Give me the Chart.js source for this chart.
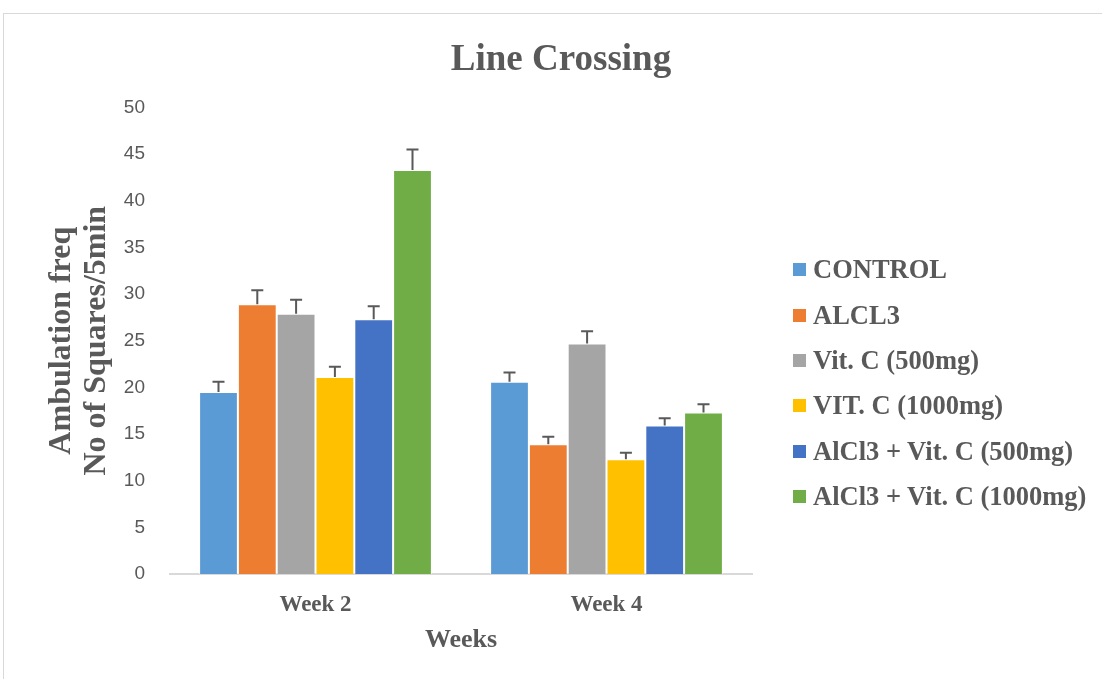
<!DOCTYPE html>
<html>
<head>
<meta charset="utf-8">
<script src="https://cdn.jsdelivr.net/npm/chart.js@4.4.1/dist/chart.umd.min.js"></script>
<style>
  html, body { margin: 0; padding: 0; background: #fff; overflow: hidden; }
  .frame { position: absolute; left: 3px; top: 13px; width: 1120px; height: 700px; border: 1px solid #d9d9d9; }
  #lineChart { position: absolute; left: 0; top: 0; }
  #legend { position: absolute; left: 789px; top: 233px; font-family: "Liberation Serif", "Times New Roman", serif;
            font-weight: bold; font-size: 26.5px; color: #595959; }
  #legend .item { display: flex; align-items: center; height: 45.4px; white-space: nowrap; }
  #legend .box { width: 13px; height: 13px; margin-right: 7px; }
</style>
</head>
<body>
<div class="frame"><canvas id="lineChart" width="1098" height="665"></canvas><div id="legend"></div></div>
<script>
const weeks = ['Week 2', 'Week 4'];
const seriesNames = ['CONTROL', 'ALCL3', 'Vit. C (500mg)', 'VIT. C (1000mg)', 'AlCl3 + Vit. C (500mg)', 'AlCl3 + Vit. C (1000mg)'];
const seriesColors = ['#5B9BD5', '#ED7D31', '#A5A5A5', '#FFC000', '#4472C4', '#70AD47'];

const control = [19.5, 20.6];
const alcl3 = [28.9, 13.9];
const vitC500 = [27.9, 24.7];
const vitC1000 = [21.1, 12.3];
const alcl3VitC500 = [27.3, 15.9];
const alcl3VitC1000 = [43.3, 17.3];

const controlErr = [1.1, 1.0];
const alcl3Err = [1.5, 0.8];
const vitC500Err = [1.5, 1.3];
const vitC1000Err = [1.1, 0.7];
const alcl3VitC500Err = [1.4, 0.8];
const alcl3VitC1000Err = [2.2, 0.9];

const yTicks = [0, 5, 10, 15, 20, 25, 30, 35, 40, 45, 50];

const values = [control, alcl3, vitC500, vitC1000, alcl3VitC500, alcl3VitC1000];
const errors = [controlErr, alcl3Err, vitC500Err, vitC1000Err, alcl3VitC500Err, alcl3VitC1000Err];

const SERIF = '"Liberation Serif", "Times New Roman", serif';
const GREY = '#595959';

// upward-only error bars, drawn from the y scale
const errorBars = {
    id: 'errorBars',
    afterDatasetsDraw(chart) {
        const ctx = chart.ctx;
        const y = chart.scales.y;
        ctx.save();
        ctx.strokeStyle = GREY;
        ctx.lineWidth = 2;
        chart.data.datasets.forEach((ds, i) => {
            const meta = chart.getDatasetMeta(i);
            meta.data.forEach((bar, j) => {
                const top = y.getPixelForValue(ds.data[j] + ds.errors[j]);
                ctx.beginPath();
                ctx.moveTo(bar.x, bar.y);
                ctx.lineTo(bar.x, top);
                ctx.moveTo(bar.x - 6, top);
                ctx.lineTo(bar.x + 6, top);
                ctx.stroke();
            });
        });
        ctx.restore();
    }
};

const chart = new Chart(document.getElementById('lineChart').getContext('2d'), {
    type: 'bar',
    data: {
        labels: weeks,
        datasets: seriesNames.map((name, i) => ({
            label: name,
            data: values[i],
            errors: errors[i],
            backgroundColor: seriesColors[i],
            borderColor: 'rgba(255,255,255,0.7)',
            borderWidth: 1,
            barPercentage: 1,
            categoryPercentage: 0.8
        }))
    },
    options: {
        responsive: false,
        animation: false,
        layout: { padding: { left: 16, right: 0, top: 0, bottom: 23 } },
        plugins: {
            title: {
                display: true,
                text: 'Line Crossing',
                color: GREY,
                font: { family: SERIF, size: 37, weight: 'bold' },
                padding: { top: 24, bottom: 25 }
            },
            legend: { display: false },
            tooltip: { enabled: false }
        },
        scales: {
            x: {
                grid: { display: false, drawTicks: false },
                border: { display: true, color: '#d9d9d9', width: 2 },
                ticks: { color: GREY, padding: 17, font: { family: SERIF, size: 23, weight: 'bold' } },
                title: {
                    display: true,
                    text: 'Weeks',
                    color: GREY,
                    font: { family: SERIF, size: 26, weight: 'bold' },
                    padding: { top: 6, bottom: 0 }
                },
                afterFit: s => { s.height = 82; }
            },
            y: {
                min: 0,
                max: 50,
                afterBuildTicks: s => { s.ticks = yTicks.map(v => ({ value: v })); },
                grid: { display: false, drawTicks: false },
                border: { display: false },
                ticks: { color: GREY, padding: 25, font: { family: '"Liberation Sans", Arial, sans-serif', size: 19 } },
                title: {
                    display: true,
                    text: ['Ambulation freq', 'No of Squares/5min'],
                    color: GREY,
                    font: { family: SERIF, size: 32, weight: 'bold', lineHeight: 1.1 },
                    padding: { top: 24, bottom: 0 }
                },
                afterFit: s => { s.width = 150; }
            },
            gap: {
                position: 'right',
                display: true,
                grid: { display: false },
                border: { display: false },
                ticks: { display: false },
                afterFit: s => { s.width = 350; }
            }
        }
    },
    plugins: [errorBars]
});

// legend built from the datasets
const legendEl = document.getElementById('legend');
chart.data.datasets.forEach(ds => {
    const item = document.createElement('div');
    item.className = 'item';
    const box = document.createElement('span');
    box.className = 'box';
    box.style.background = ds.backgroundColor;
    const text = document.createElement('span');
    text.textContent = ds.label;
    item.appendChild(box);
    item.appendChild(text);
    legendEl.appendChild(item);
});
</script>
</body>
</html>
